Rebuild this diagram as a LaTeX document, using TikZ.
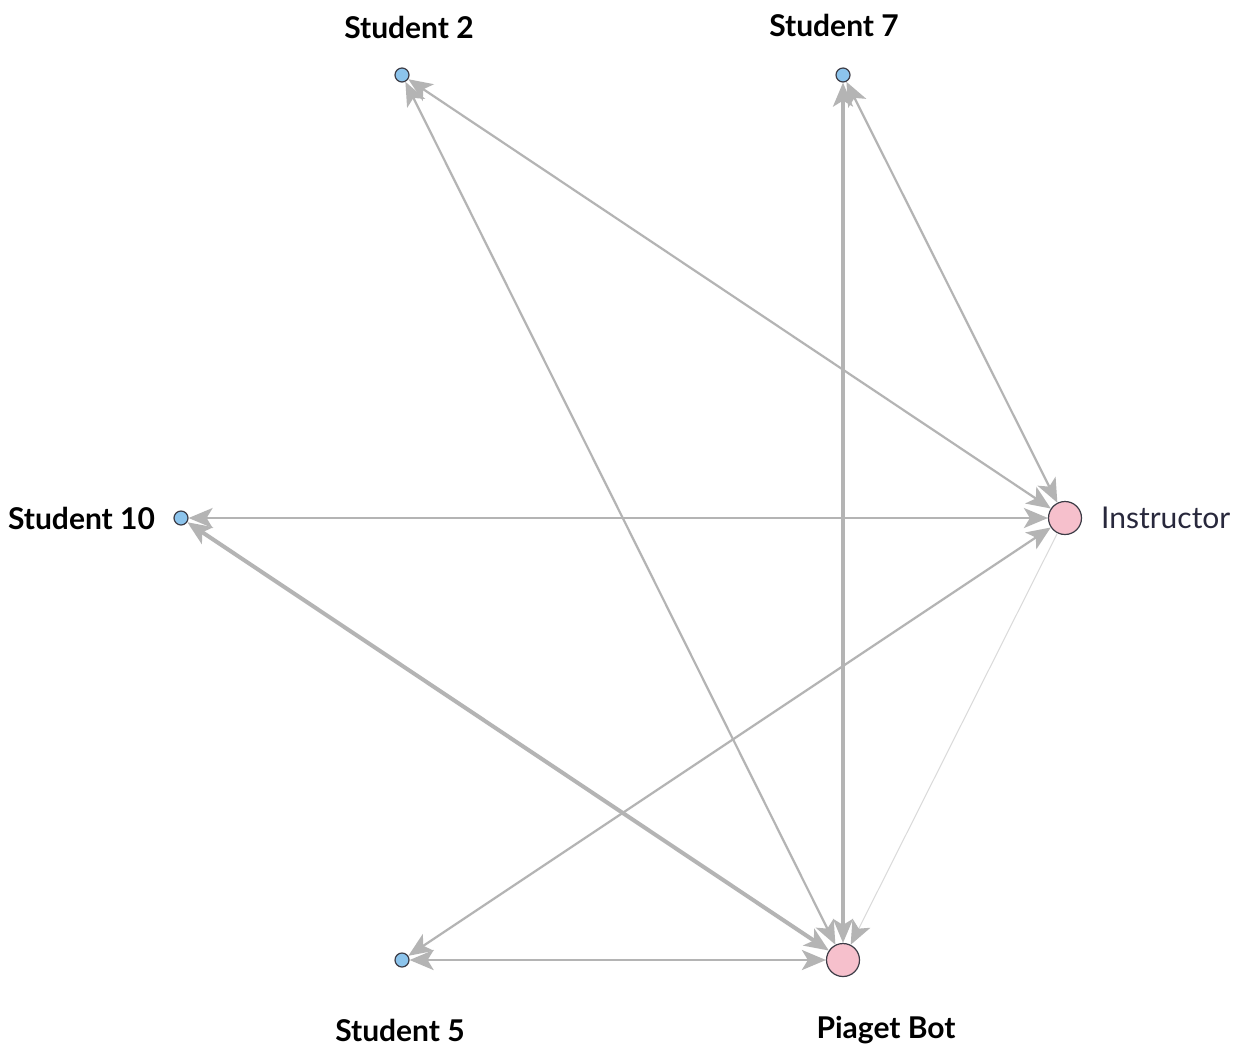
\documentclass[tikz,border=0pt]{standalone}
\usepackage{fontspec}
\setmainfont{Lato}
\usetikzlibrary{arrows.meta}
\definecolor{edgegray}{RGB}{180,180,180}
\definecolor{lightedge}{RGB}{218,218,218}
\definecolor{stublue}{RGB}{140,196,236}
\definecolor{botpink}{RGB}{246,192,204}
\definecolor{ringdark}{RGB}{60,60,70}
\definecolor{instrtext}{RGB}{40,40,60}
\tikzset{tip/.tip={Stealth[length=12pt,width=10pt,inset=3pt]}}
\begin{document}
\begin{tikzpicture}[x=0.5pt,y=-0.5pt,
  student/.style={circle,draw=ringdark,fill=stublue,line width=0.6pt,inner sep=0pt,minimum size=7pt},
  bigbox/.style={circle,draw=ringdark,fill=botpink,line width=0.6pt,inner sep=0pt,minimum size=16.5pt},
  lbl/.style={font=\fontsize{15}{17}\selectfont\bfseries},
  link/.style={draw=edgegray,line width=1.1pt,tip-tip},
  onelink/.style={draw=lightedge,line width=0.5pt,-{Stealth[length=12pt,width=10pt,inset=3pt,color=edgegray]}}]
\useasboundingbox[fill=white] (0,0) rectangle (1240,1046);
\node[student] (s2) at (402,75) {};
\node[student] (s7) at (843,75) {};
\node[student] (s10) at (181,518) {};
\node[bigbox] (ins) at (1065,518) {};
\node[student] (s5) at (402,960) {};
\node[bigbox] (pb) at (843,960) {};
\node[lbl] (l2) at (409,27) {Student 2};
\node[lbl] (l7) at (834,25) {Student 7};
\node[lbl,anchor=east] (l10) at (162,518) {Student 10};
\node[font=\fontsize{15}{17}\selectfont,text=instrtext,anchor=west] (lins) at (1094,518) {Instructor};
\node[lbl] (l5) at (400,1030) {Student 5};
\node[lbl] (lpb) at (886,1030) {Piaget Bot};
\draw[link] (s2) -- (ins);
\draw[link] (s7) -- (ins);
\draw[link] (s2) -- (pb);
\draw[link,line width=1.6pt] (s7) -- (pb);
\draw[link] (s10) -- (ins);
\draw[link,line width=2pt] (s10) -- (pb);
\draw[link] (s5) -- (ins);
\draw[link,line width=1.4pt] (s5) -- (pb);
\draw[onelink] (ins) -- (pb);
\end{tikzpicture}
\end{document}
